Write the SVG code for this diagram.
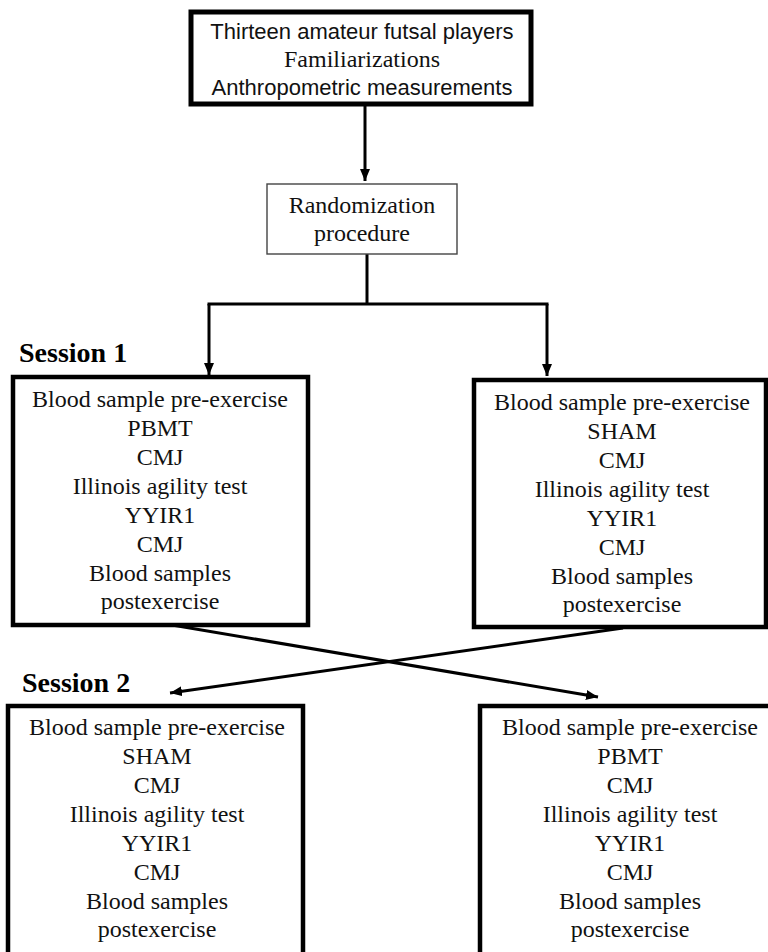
<svg xmlns="http://www.w3.org/2000/svg" width="768" height="952" viewBox="0 0 768 952">
<style>
.bg{fill:#fff}
.thick{fill:#fff;stroke:#000;stroke-width:4.5}
.thin{fill:#fff;stroke:#444;stroke-width:1.4}
.serif{font-family:"Liberation Serif","Times New Roman",serif;font-size:24px;fill:#111;text-anchor:middle}
.sans{font-family:"Liberation Sans",Arial,sans-serif;font-size:22px;fill:#111;text-anchor:middle}
.sess{font-family:"Liberation Serif","Times New Roman",serif;font-size:28px;font-weight:bold;fill:#000}
.conn{fill:none;stroke:#000;stroke-width:3}
</style>
<defs>
<marker id="ah" markerUnits="userSpaceOnUse" markerWidth="14" markerHeight="12" refX="12" refY="5" orient="auto">
<path d="M0,0 L12,5 L0,10 Z" fill="#000"/>
</marker>
</defs>
<rect class="bg" x="0" y="0" width="768" height="952"/>
<g id="connectors">
<line class="conn" x1="365" y1="105" x2="365" y2="181" marker-end="url(#ah)"/>
<line class="conn" x1="367" y1="254" x2="367" y2="304"/>
<line class="conn" x1="207.5" y1="304" x2="548.5" y2="304"/>
<line class="conn" x1="209" y1="304" x2="209" y2="375" marker-end="url(#ah)"/>
<line class="conn" x1="547" y1="304" x2="547" y2="376" marker-end="url(#ah)"/>
<line class="conn" x1="172" y1="625" x2="598" y2="697" marker-end="url(#ah)"/>
<line class="conn" x1="623" y1="628" x2="170" y2="693" marker-end="url(#ah)"/>
</g>
<g id="start">
<rect class="thick" x="191" y="12" width="340" height="92" style="stroke-width:5"/>
<text class="sans" x="362" y="39">Thirteen amateur futsal players</text>
<text class="serif" x="362" y="67">Familiarizations</text>
<text class="sans" x="362" y="95">Anthropometric measurements</text>
</g>
<g id="randomization">
<rect class="thin" x="267" y="184" width="190" height="70"/>
<text class="serif" x="362" y="213">Randomization</text>
<text class="serif" x="362" y="241">procedure</text>
</g>
<g id="session1-label">
<text class="sess" x="19" y="362">Session 1</text>
</g>
<g id="s1-left">
<rect class="thick" x="13" y="377" width="295" height="248"/>
<text class="serif" x="160" y="407">Blood sample pre-exercise</text>
<text class="serif" x="160" y="436">PBMT</text>
<text class="serif" x="160" y="465">CMJ</text>
<text class="serif" x="160" y="494">Illinois agility test</text>
<text class="serif" x="160" y="523">YYIR1</text>
<text class="serif" x="160" y="552">CMJ</text>
<text class="serif" x="160" y="581">Blood samples</text>
<text class="serif" x="160" y="609">postexercise</text>
</g>
<g id="s1-right">
<rect class="thick" x="474" y="380" width="292" height="247"/>
<text class="serif" x="622" y="410">Blood sample pre-exercise</text>
<text class="serif" x="622" y="439">SHAM</text>
<text class="serif" x="622" y="468">CMJ</text>
<text class="serif" x="622" y="497">Illinois agility test</text>
<text class="serif" x="622" y="526">YYIR1</text>
<text class="serif" x="622" y="555">CMJ</text>
<text class="serif" x="622" y="584">Blood samples</text>
<text class="serif" x="622" y="612">postexercise</text>
</g>
<g id="session2-label">
<text class="sess" x="22" y="692">Session 2</text>
</g>
<g id="s2-left">
<rect class="thick" x="8" y="706" width="295" height="260"/>
<text class="serif" x="157" y="735">Blood sample pre-exercise</text>
<text class="serif" x="157" y="764">SHAM</text>
<text class="serif" x="157" y="793">CMJ</text>
<text class="serif" x="157" y="822">Illinois agility test</text>
<text class="serif" x="157" y="851">YYIR1</text>
<text class="serif" x="157" y="880">CMJ</text>
<text class="serif" x="157" y="909">Blood samples</text>
<text class="serif" x="157" y="937">postexercise</text>
</g>
<g id="s2-right">
<rect class="thick" x="480" y="706" width="300" height="260"/>
<text class="serif" x="630" y="735">Blood sample pre-exercise</text>
<text class="serif" x="630" y="764">PBMT</text>
<text class="serif" x="630" y="793">CMJ</text>
<text class="serif" x="630" y="822">Illinois agility test</text>
<text class="serif" x="630" y="851">YYIR1</text>
<text class="serif" x="630" y="880">CMJ</text>
<text class="serif" x="630" y="909">Blood samples</text>
<text class="serif" x="630" y="937">postexercise</text>
</g>
</svg>
